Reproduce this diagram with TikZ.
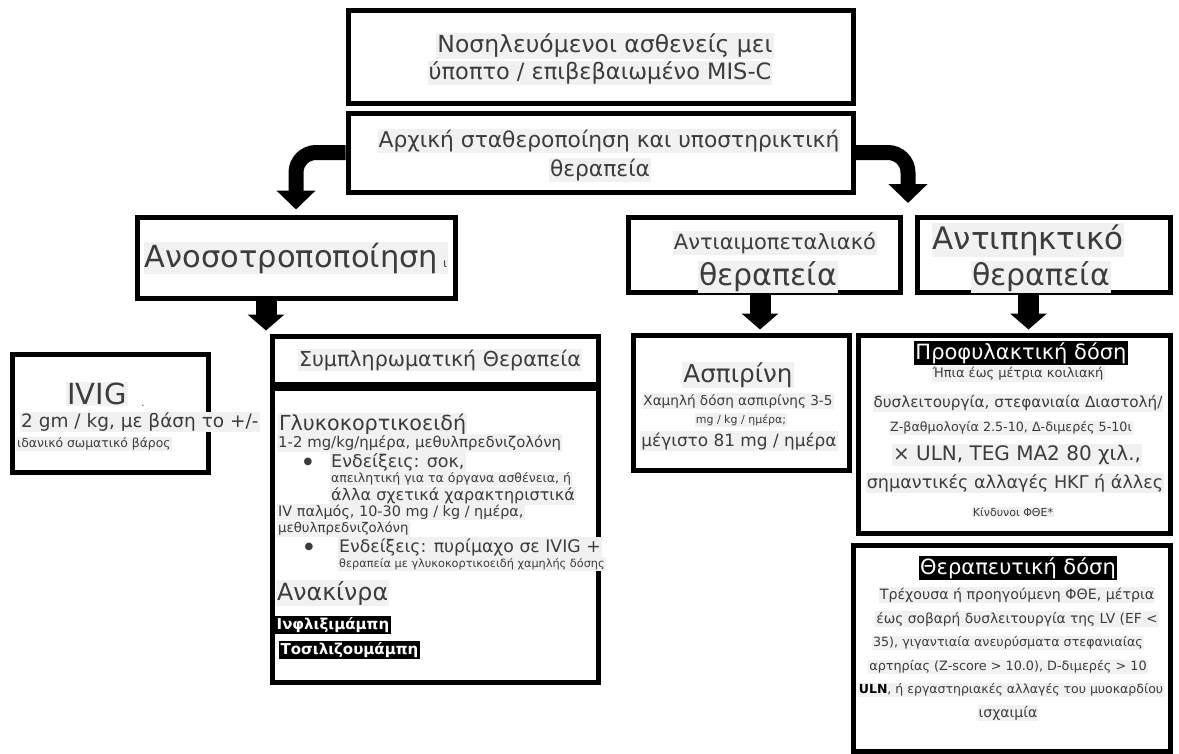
\documentclass[tikz,border=0pt]{standalone}
\usepackage{fontspec}
\setmainfont{DejaVu Sans}
\usetikzlibrary{arrows.meta,calc}
\definecolor{txt}{HTML}{3C3C3C}
\definecolor{hl}{HTML}{F1F1F1}
\newcommand{\fz}[1]{\fontsize{#1}{#1}\selectfont}
\begin{document}
\begin{tikzpicture}[x=1pt,y=-1pt,
 box/.style={draw=black,line width=5pt,fill=white,inner sep=0pt},
 t/.style={text=txt,inner sep=1pt,fill=hl},
 tw/.style={t,anchor=west},
 inv/.style={fill=black,text=white,inner sep=1.5pt},
 blk/.style={line width=21pt,shorten >=3pt,-{Triangle[width=36pt,length=16pt]}},
 crv/.style={line width=15pt,rounded corners=20pt,shorten >=5pt,-{Triangle[width=38pt,length=19pt]}}]
\useasboundingbox[fill=white] (0,0) rectangle (1179,753);

% boxes
\node[box,minimum width=505pt,minimum height=93pt] (top) at (600.5,56.5) {};
\node[box,minimum width=505pt,minimum height=79pt] (stab) at (600.5,152.5) {};
\node[box,minimum width=318pt,minimum height=81pt] (immuno) at (296,257.5) {};
\node[box,minimum width=272pt,minimum height=75pt] (antiplat) at (764,254.5) {};
\node[box,minimum width=253pt,minimum height=75pt] (anticoag) at (1043.5,254.5) {};
\node[box,minimum width=196pt,minimum height=118pt] (ivig) at (110,413) {};
\node[box,minimum width=326pt,minimum height=48pt] (supphead) at (435,360) {};
\node[box,minimum width=326pt,minimum height=294pt] (suppbody) at (435,535) {};
\node[box,minimum width=216pt,minimum height=135pt] (aspirin) at (741,402.5) {};
\node[box,minimum width=312pt,minimum height=198pt] (proph) at (1014,434) {};
\node[box,minimum width=317pt,minimum height=206pt] (therap) at (1011.5,648) {};

% connectors
\coordinate (rc) at (908,208);
\draw[crv] (stab.west) -- (stab.west -| immuno.north) -- (immuno.north);
\draw[crv] (stab.east) -- (stab.east -| rc) -- (rc);
\draw[blk] ([xshift=-30pt]immuno.south) -- ([xshift=-30pt]immuno.south |- supphead.north);
\draw[blk] ([xshift=-4pt]antiplat.south) -- ([xshift=-4pt]antiplat.south |- aspirin.north);
\draw[blk] ([xshift=-15pt]anticoag.south) -- ([xshift=-15pt]anticoag.south |- proph.north);

% top texts
\node[t] (t1) at (605,46) {\fz{23.5}Νοσηλευόμενοι ασθενείς μει};
\node[t] (t2) at (600,73) {\fz{22.5}ύποπτο / επιβεβαιωμένο MIS-C};
\node[t] (t3) at (609,141) {\fz{21.8}Αρχική σταθεροποίηση και υποστηρικτική};
\node[t] (t4) at (600,170) {\fz{21.8}θεραπεία};

\node[t] (t5) at (296,258) {\fz{30.5}Ανοσοτροποποίηση\,{\fz{12}ι}};
\node[t] (t6) at (775,243) {\fz{21}Αντιαιμοπεταλιακό};
\node[t] (t7) at (768,277) {\fz{30}θεραπεία};
\node[t] (t8) at (1028,240) {\fz{31}Αντιπηκτικό};
\node[t] (t9) at (1041,277) {\fz{30}θεραπεία};

% IVIG
\node[t] (i1) at (97,394) {\fz{29}IVIG};
\node[text=txt,inner sep=0pt] (i1b) at (143,406) {\fz{10}.};
\node[tw] (i2) at (20,422) {\fz{18.5}2 gm / kg, με βάση το +/-};
\node[tw] (i3) at (16,444) {\fz{12.4}ιδανικό σωματικό βάρος};

% supportive
\node[t] (s0) at (440,360) {\fz{20.6}Συμπληρωματική Θεραπεία};
\node[tw] (s1) at (278,424) {\fz{20.7}Γλυκοκορτικοειδή};
\node[tw] (s2) at (277,443) {\fz{14.9}1-2 mg/kg/ημέρα, μεθυλπρεδνιζολόνη};
\node[text=txt] (b1) at (308,462) {\fz{10}●};
\node[tw] (s3) at (330,462) {\fz{17.5}Ενδείξεις: σοκ,};
\node[tw] (s4) at (330,479) {\fz{12.5}απειλητική για τα όργανα ασθένεια, ή};
\node[tw] (s5) at (330,496) {\fz{16}άλλα σχετικά χαρακτηριστικά};
\node[tw] (s6) at (277,512) {\fz{14.4}IV παλμός, 10-30 mg / kg / ημέρα,};
\node[tw] (s7) at (277,529) {\fz{13.3}μεθυλπρεδνιζολόνη};
\node[text=txt] (b2) at (309,547) {\fz{10}●};
\node[tw] (s8) at (338,547) {\fz{17.3}Ενδείξεις: πυρίμαχο σε IVIG +};
\node[tw] (s9) at (338,564) {\fz{11.3}θεραπεία με γλυκοκορτικοειδή χαμηλής δόσης};
\node[tw] (s10) at (276,593) {\fz{23.7}Ανακίνρα};
\node[inv,anchor=west] (s11) at (275,625) {\fz{15}\bfseries Ινφλιξιμάμπη};
\node[inv,anchor=west] (s12) at (279,650) {\fz{15}\bfseries Τοσιλιζουμάμπη};

% aspirin
\node[t] (a1) at (738,375) {\fz{24.7}Ασπιρίνη};
\node[t] (a2) at (738,401) {\fz{13.6}Χαμηλή δόση ασπιρίνης 3-5};
\node[t] (a3) at (741,420) {\fz{11}mg / kg / ημέρα;};
\node[t] (a4) at (739,441) {\fz{16.9}μέγιστο 81 mg / ημέρα};

% prophylactic
\node[inv] (p0) at (1021,353) {\fz{21}Προφυλακτική δόση};
\node[t] (p1) at (1018,374) {\fz{13}Ήπια έως μέτρια κοιλιακή};
\node[t] (p2) at (1018,403) {\fz{15.2}δυσλειτουργία, στεφανιαία Διαστολή/};
\node[t] (p3) at (1011,428) {\fz{12.7}Ζ-βαθμολογία 2.5-10, Δ-διμερές 5-10ι};
\node[t] (p4) at (1017,455) {\fz{20}× ULN, TEG MA2 80 χιλ.,};
\node[t] (p5) at (1015,483) {\fz{17.6}σημαντικές αλλαγές ΗΚΓ ή άλλες};
\node[t] (p6) at (1013,512) {\fz{11}Κίνδυνοι ΦΘΕ*};

% therapeutic
\node[inv] (h0) at (1018,568) {\fz{21}Θεραπευτική δόση};
\node[t] (h1) at (1017,595) {\fz{14.2}Τρέχουσα ή προηγούμενη ΦΘΕ, μέτρια};
\node[t] (h2) at (1017,619) {\fz{13.8}έως σοβαρή δυσλειτουργία της LV (EF <};
\node[t] (h3) at (1008,643) {\fz{12.7}35), γιγαντιαία ανευρύσματα στεφανιαίας};
\node[t] (h4) at (1008,667) {\fz{12.8}αρτηρίας (Z-score > 10.0), D-διμερές > 10};
\node[t] (h5) at (1011,690) {\fz{12.5}{\color{black}\bfseries ULN}, ή εργαστηριακές αλλαγές του μυοκαρδίου};
\node[t] (h6) at (1008,713) {\fz{14}ισχαιμία};
\end{tikzpicture}
\end{document}
